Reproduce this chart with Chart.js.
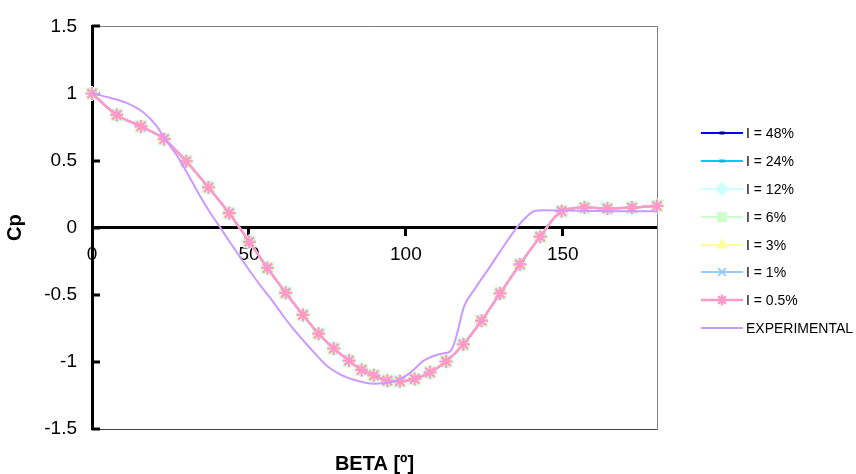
<!DOCTYPE html>
<html>
<head>
<meta charset="utf-8">
<script src="https://cdn.jsdelivr.net/npm/chart.js@4.4.1/dist/chart.umd.min.js"></script>
<style>
html,body{margin:0;padding:0;background:#fff;}
canvas{display:block;}
</style>
</head>
<body>
<canvas id="c" width="856" height="474"></canvas>
<script>
// ---------- DATA ----------
const beta = [0, 7.9, 15.6, 23, 30, 37.1, 43.7, 50.1, 55.9, 61.7, 67.2, 72.2, 77, 81.9, 85.9, 89.8,
  94.1, 98.1, 102.8, 107.7, 112.8, 118.3, 124.1, 130, 136.3, 142.8, 149.6, 156.9, 164.2, 172, 180];
const cpCFD = [1.0, 0.84, 0.755, 0.66, 0.495, 0.30, 0.108, -0.105, -0.30, -0.485, -0.65, -0.79, -0.90,
  -0.99, -1.06, -1.10, -1.14, -1.145, -1.127, -1.078, -0.997, -0.87, -0.693, -0.49, -0.274, -0.067,
  0.123, 0.15, 0.143, 0.15, 0.162];
const betaExp = [0, 5.7, 11, 16.3, 20.5, 23, 27, 30, 34.5, 37.7, 40.9, 44, 47.2, 50.5, 53.6, 57, 61,
  64.2, 69.6, 74.9, 79.2, 84.5, 89.8, 95.1, 98.3, 101.5, 105.7, 108.9, 112.1, 114.2, 115.8, 117.4,
  118.5, 121.7, 126, 130.2, 134.5, 137.6, 140.8, 144, 150, 160, 170, 180];
const cpExp = [1.0, 0.968, 0.93, 0.86, 0.76, 0.67, 0.54, 0.42, 0.233, 0.11, 0.0, -0.11, -0.22, -0.33,
  -0.43, -0.53, -0.66, -0.755, -0.9, -1.03, -1.095, -1.14, -1.162, -1.152, -1.127, -1.078, -0.99,
  -0.956, -0.936, -0.92, -0.833, -0.686, -0.588, -0.465, -0.318, -0.171, -0.025, 0.061, 0.123, 0.13,
  0.128, 0.125, 0.123, 0.122];
const seriesNames = ['I = 48%', 'I = 24%', 'I = 12%', 'I = 6%', 'I = 3%', 'I = 1%', 'I = 0.5%', 'EXPERIMENTAL'];
const xTicks = [0, 50, 100, 150];
const yTicks = [-1.5, -1, -0.5, 0, 0.5, 1, 1.5];
const xTitle = 'BETA [º]';
const yTitle = 'Cp';

// ---------- STYLES ----------
const FONT = "'Liberation Sans', Arial, sans-serif";
const styles = [
  {line: '#0000FF', pt: '#000080', ps: 'line',     r: 3,   bw: 3, lr: 2.5, lw: 2},
  {line: '#00CCFF', pt: '#00B4F0', ps: 'line',     r: 3.5, bw: 3, lr: 3,   lw: 2},
  {line: '#CCFFFF', pt: '#CCFFFF', ps: 'rectRot',  r: 7.5, bw: 1, lr: 6.5, lw: 2},
  {line: '#CCFFCC', pt: '#CCFFCC', ps: 'rect',     r: 8,   bw: 1, lr: 6.5, lw: 2},
  {line: '#FFFF99', pt: '#FFFF99', ps: 'triangle', r: 6.5, bw: 1, lr: 6,   lw: 2},
  {line: '#99CCFF', pt: '#99CCFF', ps: 'crossRot', r: 6,   bw: 2, lr: 5.5, lw: 2},
  {line: '#FF99CC', pt: '#FF99CC', ps: 'star',     r: 6.5, bw: 2.2, lr: 5.5, lw: 2.5},
  {line: '#CC99FF', pt: '#CC99FF', ps: false,      r: 0,   bw: 0, lr: 0,   lw: 2}
];

const cfdPoints = beta.map((b, i) => ({x: b, y: cpCFD[i]}));
const expPoints = betaExp.map((b, i) => ({x: b, y: cpExp[i]}));

const datasets = seriesNames.map((name, i) => {
  const s = styles[i];
  const isExp = i === 7;
  return {
    label: name,
    data: isExp ? expPoints : cfdPoints,
    showLine: true,
    borderColor: s.line,
    borderWidth: s.lw,
    backgroundColor: s.pt,
    pointStyle: s.ps || 'circle',
    pointRadius: s.r,
    pointBorderColor: s.pt,
    pointBackgroundColor: s.pt,
    pointBorderWidth: s.bw,
    pointHoverRadius: s.r,
    cubicInterpolationMode: 'monotone',
    clip: false,
    order: isExp ? 0 : 7 - i
  };
});

// ---------- DECORATION PLUGIN ----------
const decor = {
  id: 'decor',
  beforeDatasetsDraw(chart) {
    const {ctx, chartArea: a, scales} = chart;
    const y = scales.y;
    ctx.save();
    ctx.lineWidth = 1;
    ctx.strokeStyle = '#808080';
    ctx.beginPath();
    ctx.moveTo(a.left, Math.round(a.top) + 0.5);
    ctx.lineTo(Math.round(a.right) + 0.5, Math.round(a.top) + 0.5);
    ctx.lineTo(Math.round(a.right) + 0.5, Math.round(a.bottom) + 0.5);
    ctx.stroke();
    ctx.strokeStyle = '#404040';
    ctx.beginPath();
    ctx.moveTo(a.left, Math.round(a.bottom) + 0.5);
    ctx.lineTo(Math.round(a.right) + 0.5, Math.round(a.bottom) + 0.5);
    ctx.stroke();
    ctx.strokeStyle = '#000';
    ctx.lineWidth = 3;
    yTicks.forEach(v => {
      const py = Math.round(y.getPixelForValue(v));
      ctx.beginPath();
      ctx.moveTo(a.left, py);
      ctx.lineTo(a.left + 8, py);
      ctx.stroke();
    });
    ctx.restore();
  },
  afterDraw(chart) {
    const ctx = chart.ctx;
    const x0 = 701, x1 = 743, tx = 746, y0 = 132.7, step = 27.95;
    ctx.save();
    ctx.font = '14px ' + FONT;
    ctx.textBaseline = 'middle';
    ctx.textAlign = 'left';
    seriesNames.forEach((name, i) => {
      const s = styles[i];
      const yy = Math.round(y0 + i * step);
      ctx.strokeStyle = s.line;
      ctx.lineWidth = s.lw;
      ctx.beginPath();
      ctx.moveTo(x0, yy);
      ctx.lineTo(x1, yy);
      ctx.stroke();
      if (s.ps) {
        ctx.fillStyle = s.pt;
        ctx.strokeStyle = s.pt;
        ctx.lineWidth = s.bw;
        Chart.helpers.drawPoint(ctx, {pointStyle: s.ps, rotation: 0, radius: s.lr, borderWidth: s.bw}, (x0 + x1) / 2, yy);
      }
      ctx.fillStyle = '#000';
      ctx.fillText(name, tx, yy + 1);
    });
    ctx.restore();
  }
};

Chart.defaults.font.family = FONT;
Chart.defaults.color = '#000';

new Chart(document.getElementById('c'), {
  type: 'scatter',
  data: {datasets},
  options: {
    responsive: false,
    devicePixelRatio: 1,
    animation: false,
    events: [],
    layout: {padding: {left: 0, right: 199, top: 23, bottom: 0}},
    plugins: {legend: {display: false}, tooltip: {enabled: false}},
    scales: {
      x: {
        type: 'linear',
        position: {y: 0},
        min: 0, max: 180,
        afterBuildTicks: s => { s.ticks = xTicks.map(v => ({value: v})); },
        afterFit: s => { s.height = 0; },
        ticks: {font: {size: 19}, padding: 9, maxRotation: 0, color: '#000', callback: v => String(v)},
        grid: {display: true, drawOnChartArea: false, drawTicks: true, tickLength: 7, tickWidth: 3, tickColor: '#000', color: '#000'},
        border: {display: true, color: '#000', width: 3}
      },
      xb: {
        type: 'linear',
        position: 'bottom',
        min: 0, max: 180,
        afterFit: s => { s.height = 45; },
        ticks: {display: false},
        grid: {display: false, drawTicks: false},
        border: {display: false},
        title: {display: true, text: xTitle, font: {size: 20, weight: 'bold', lineHeight: 1}, padding: {top: 0, bottom: 0}, color: '#000'}
      },
      y: {
        type: 'linear',
        position: 'left',
        min: -1.5, max: 1.5,
        afterBuildTicks: s => { s.ticks = yTicks.map(v => ({value: v})); },
        afterFit: s => { s.width = 92; },
        ticks: {font: {size: 19}, padding: 15, color: '#000', callback: v => String(v)},
        grid: {display: false, drawTicks: false},
        border: {display: true, color: '#000', width: 3},
        title: {display: true, text: yTitle, font: {size: 20, weight: 'bold', lineHeight: 1}, padding: {top: 5, bottom: 0}, color: '#000'}
      }
    }
  },
  plugins: [decor]
});
</script>
</body>
</html>
